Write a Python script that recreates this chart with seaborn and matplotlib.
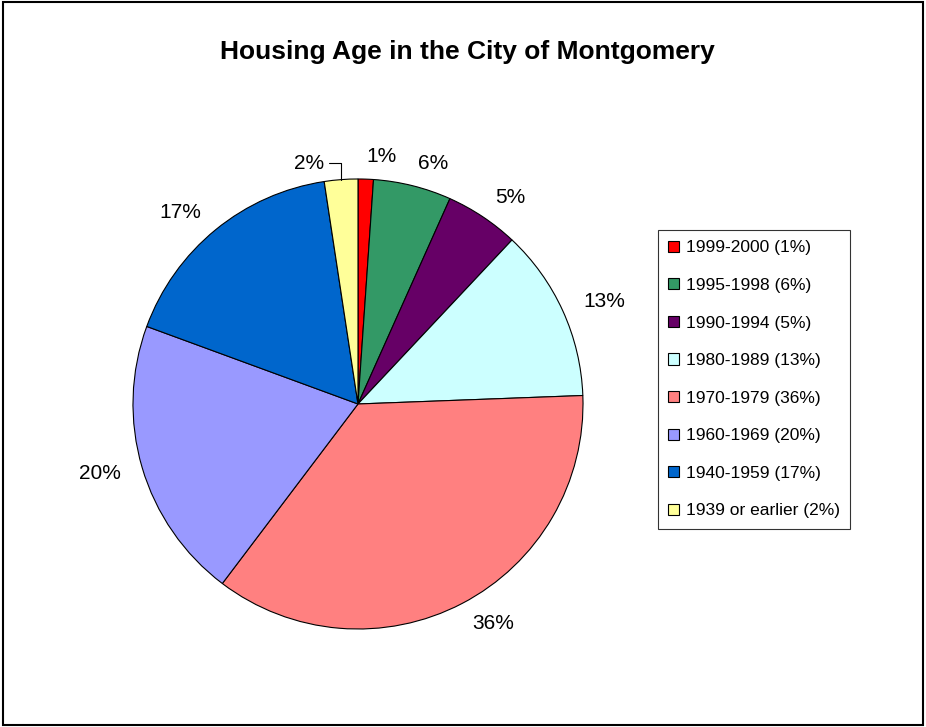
import matplotlib
matplotlib.use("Agg")
import matplotlib.pyplot as plt
import seaborn as sns
import numpy as np
from matplotlib.patches import Rectangle

# Housing age shares (percent), clockwise from 12 o'clock
periods = ["1999-2000", "1995-1998", "1990-1994", "1980-1989",
           "1970-1979", "1960-1969", "1940-1959", "1939 or earlier"]
shares = [1.1, 5.6, 5.3, 12.4, 35.9, 20.3, 17.0, 2.4]
pct_labels = ["1%", "6%", "5%", "13%", "36%", "20%", "17%", "2%"]
colors = ["#FF0000", "#339966", "#660066", "#CCFFFF",
          "#FF8080", "#9999FF", "#0066CC", "#FFFF99"]

legend_labels = [f"{p} ({l})" for p, l in zip(periods, pct_labels)]

sns.set_theme(style="white")
plt.rcParams['font.family'] = ['Liberation Sans', 'DejaVu Sans']
plt.rcParams['text.color'] = 'black'

fig = plt.figure(figsize=(9.26, 7.27), dpi=100)
ax = fig.add_axes([0.1436, 0.1348, 0.486, 0.619])

wedges, texts = ax.pie(
    shares, colors=colors, startangle=90, counterclock=False,
    labels=pct_labels[:-1] + [""], labeldistance=1.1,
    wedgeprops=dict(edgecolor="black", linewidth=0.8),
    textprops=dict(fontsize=15, color="black"),
)
ax.set_xlim(-1, 1)
ax.set_ylim(-1, 1)

# small last slice gets its label pulled aside with a leader line
w = wedges[-1]
mid = np.deg2rad((w.theta1 + w.theta2) / 2)
ax.annotate(pct_labels[-1], xy=(np.cos(mid), np.sin(mid)),
            xytext=(-0.15, 1.07), ha="right", va="center", fontsize=15,
            color="black",
            arrowprops=dict(arrowstyle="-", color="black", lw=0.8,
                            connectionstyle="angle,angleA=0,angleB=90",
                            shrinkA=1, shrinkB=0))

fig.text(0.505, 0.929, "Housing Age in the City of Montgomery",
         ha="center", va="center", fontsize=19, fontweight="bold",
         color="black")

leg = fig.legend(wedges, legend_labels, loc="upper left",
                 bbox_to_anchor=(658 / 926, 1 - 230 / 727),
                 fontsize=12.5, frameon=True, fancybox=False,
                 edgecolor="black", handlelength=0.6, handleheight=0.6,
                 handletextpad=0.4, labelspacing=1.3, borderpad=0.6,
                 borderaxespad=0, labelcolor="black")
leg.get_frame().set_linewidth(0.8)

fig.patches.append(Rectangle((0.003, 0.003), 0.994, 0.994,
                             transform=fig.transFigure, fill=False,
                             edgecolor="black", linewidth=1.5))

fig.savefig("out.png", dpi=100, facecolor="white")
